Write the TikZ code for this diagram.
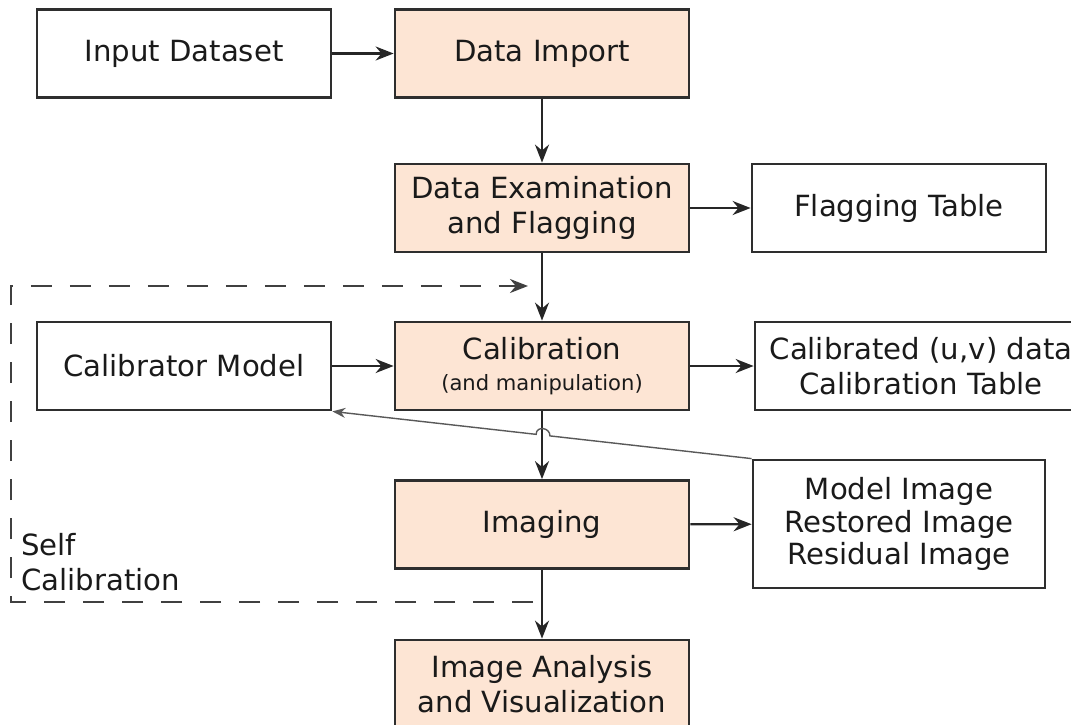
\documentclass[tikz,border=0pt]{standalone}
\usepackage{fontspec}
\setmainfont{DejaVu Sans}
\usetikzlibrary{arrows.meta,calc}

\definecolor{boxrand}{HTML}{2E2E2E}
\definecolor{boxfill}{HTML}{FDE5D4}
\definecolor{schrift}{HTML}{1A1A1A}

\begin{document}
\begin{tikzpicture}[x=0.02cm, y=-0.02cm,
          box/.style={draw=boxrand, line width=1.6pt, minimum width=5.88cm, minimum height=1.76cm,
                      align=center, inner sep=0pt, text=schrift, font=\fontsize{16.6}{19.5}\selectfont},
          proc/.style={box, fill=boxfill},
          flow/.style={draw=black!85, line width=1.3pt, -{Stealth[length=3.6mm, width=2.8mm]}},
          back/.style={draw=black!65, line width=0.8pt, -{Stealth[length=2.6mm, width=2mm]}},
          loop/.style={draw=black!75, line width=1.3pt, dash pattern=on 0.42cm off 0.36cm,
                       -{Stealth[length=3.6mm, width=2.8mm]}}
        ]
          \useasboundingbox (0,0) rectangle (1071,724);

          % Knoten
          \node[box]  (input)    at (184,53.5)  {Input Dataset};
          \node[proc] (import)   at (542,53.5)  {Data Import};
          \node[proc] (exam)     at (542,208)   {Data Examination\\and Flagging};
          \node[box]  (flag)     at (899,208)   {Flagging Table};
          \node[box]  (calmod)   at (184,366)   {Calibrator Model};
          \node[proc] (cal)      at (542,366)   {Calibration\\[-2pt]{\fontsize{12}{14}\selectfont(and manipulation)}};
          \node[box, minimum width=6.64cm] (caldata) at (921,366) {Calibrated (u,v) data\\Calibration Table};
          \node[proc] (imaging)  at (542,524.5) {Imaging};
          \node[box, minimum width=5.84cm, minimum height=2.56cm, font=\fontsize{16.6}{18.5}\selectfont]
                      (images)   at (899,524)   {Model Image\\Restored Image\\Residual Image};
          \node[proc] (analysis) at (542,684)   {Image Analysis\\and Visualization};

          % Pfeile
          \draw[flow] (input) -- (import);
          \draw[flow] (import) -- (exam);
          \draw[flow] (exam) -- (flag);
          \draw[flow] (exam) -- (cal);
          \draw[flow] (calmod) -- (cal);
          \draw[flow] (cal) -- (caldata);
          \draw[flow] (cal) -- (imaging);
          \draw[flow] (imaging) -- (images);
          \draw[flow] (imaging) -- (analysis);

          % Rueckfuehrung
          \coordinate (hopa) at ($(images.north west)!0.481!(calmod.south east)$);
          \coordinate (hopb) at ($(images.north west)!0.514!(calmod.south east)$);
          \draw[back] (images.north west) -- (hopa) to[out=90, in=90, looseness=1.6] (hopb) -- (calmod.south east);

          % Selbstkalibrierung
          \coordinate (scstart) at (533,602);
          \coordinate (sclow)   at (11,602);
          \coordinate (sctop)   at (11,286);
          \coordinate (scend)   at (528,286);
          \draw[loop] (scstart) -- (sclow) -- (sctop) -- (scend);
          \node[anchor=west, align=left, inner sep=0pt, text=schrift, font=\fontsize{16.6}{19.5}\selectfont]
               (sclabel) at (21,562) {Self\\Calibration};
        \end{tikzpicture}
\end{document}
